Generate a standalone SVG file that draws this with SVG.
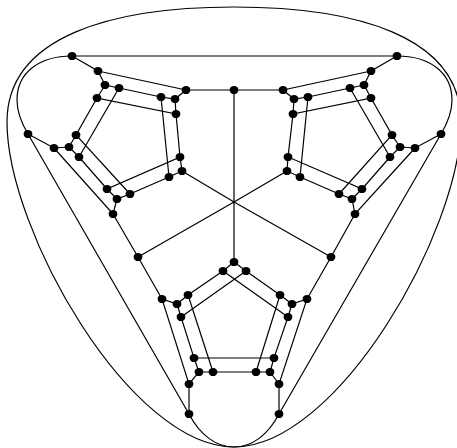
<svg xmlns="http://www.w3.org/2000/svg" width="457" height="448" viewBox="0 0 457 448">
<style>
.e{fill:none;stroke:#000;stroke-width:1.2}
.n{fill:#000;stroke:none}
</style>
<defs><ellipse id="dot" class="n" rx="4.4" ry="4.1"/></defs>
<rect width="457" height="448" fill="#fff"/>
<g id="connectors" class="e">
<path d="M234,7C115,7 7,35 7,122C7,230 130,447 234,447C338,447 461,230 461,122C461,35 353,7 234,7Z"/>
<path d="M72,56C40,56 17,72 17,100C17,113 22,124 28,134"/>
<path d="M397,56C429,56 452,72 452,100C452,113 447,124 441,134"/>
<path d="M189,414C200,435 216,447 234,447C252,447 268,435 279,414"/>
<path d="M72,56H397M186,90H283M234,90V202M234,202V262M234,202L182,171M234,202L287,171M234,202L138,257M234,202L331,257"/>
<path d="M72,56L98,71L105,85L119,88L161,97L175,99L186,90L98,71M105,85L97,98L176,114L180,157L107,189L117,199L130,194L169,177L182,171L180,157M175,99L176,114M161,97L169,177M97,98L76,135L130,194M76,135L69,147L54,148L28,134M69,147L79,157L107,189M119,88L79,157M54,148L113,214L117,199M113,214L138,257L162,299M28,134L189,414"/>
<path d="M397,56L371,71L364,85L350,88L308,97L294,99L283,90L371,71M364,85L371,98L293,114L288,157L362,189L352,199L339,194L300,177L287,171L288,157M294,99L293,114M308,97L300,177M371,98L392,135L339,194M392,135L400,147L415,148L441,134M400,147L390,157L362,189M350,88L390,157M415,148L355,214L352,199M355,214L331,257L307,299M441,134L279,414"/>
<path d="M234,262L223,271L188,295L177,304L162,299L189,384L189,414M234,262L246,271L280,295L292,304L307,299L279,384L279,414M223,271L288,317L274,358L194,358L181,317L246,271M177,304L181,317M292,304L288,317M188,295L213,372M280,295L256,372M194,358L199,372L189,384M274,358L270,372L279,384M199,372H270"/>
</g>
<g id="n1"><use href="#dot" x="72" y="56"/></g>
<g id="n2"><use href="#dot" x="98" y="71"/></g>
<g id="n3"><use href="#dot" x="105" y="85"/></g>
<g id="n4"><use href="#dot" x="119" y="88"/></g>
<g id="n5"><use href="#dot" x="97" y="98"/></g>
<g id="n6"><use href="#dot" x="161" y="97"/></g>
<g id="n7"><use href="#dot" x="175" y="99"/></g>
<g id="n8"><use href="#dot" x="186" y="90"/></g>
<g id="n9"><use href="#dot" x="176" y="114"/></g>
<g id="n10"><use href="#dot" x="180" y="157"/></g>
<g id="n11"><use href="#dot" x="182" y="171"/></g>
<g id="n12"><use href="#dot" x="169" y="177"/></g>
<g id="n13"><use href="#dot" x="130" y="194"/></g>
<g id="n14"><use href="#dot" x="117" y="199"/></g>
<g id="n15"><use href="#dot" x="107" y="189"/></g>
<g id="n16"><use href="#dot" x="113" y="214"/></g>
<g id="n17"><use href="#dot" x="79" y="157"/></g>
<g id="n18"><use href="#dot" x="69" y="147"/></g>
<g id="n19"><use href="#dot" x="76" y="135"/></g>
<g id="n20"><use href="#dot" x="54" y="148"/></g>
<g id="n21"><use href="#dot" x="28" y="134"/></g>
<g id="n22"><use href="#dot" x="397" y="56"/></g>
<g id="n23"><use href="#dot" x="371" y="71"/></g>
<g id="n24"><use href="#dot" x="364" y="85"/></g>
<g id="n25"><use href="#dot" x="350" y="88"/></g>
<g id="n26"><use href="#dot" x="371" y="98"/></g>
<g id="n27"><use href="#dot" x="308" y="97"/></g>
<g id="n28"><use href="#dot" x="294" y="99"/></g>
<g id="n29"><use href="#dot" x="283" y="90"/></g>
<g id="n30"><use href="#dot" x="293" y="114"/></g>
<g id="n31"><use href="#dot" x="288" y="157"/></g>
<g id="n32"><use href="#dot" x="287" y="171"/></g>
<g id="n33"><use href="#dot" x="300" y="177"/></g>
<g id="n34"><use href="#dot" x="339" y="194"/></g>
<g id="n35"><use href="#dot" x="352" y="199"/></g>
<g id="n36"><use href="#dot" x="362" y="189"/></g>
<g id="n37"><use href="#dot" x="355" y="214"/></g>
<g id="n38"><use href="#dot" x="390" y="157"/></g>
<g id="n39"><use href="#dot" x="400" y="147"/></g>
<g id="n40"><use href="#dot" x="392" y="135"/></g>
<g id="n41"><use href="#dot" x="415" y="148"/></g>
<g id="n42"><use href="#dot" x="441" y="134"/></g>
<g id="n43"><use href="#dot" x="234" y="90"/></g>
<g id="n44"><use href="#dot" x="234" y="262"/></g>
<g id="n45"><use href="#dot" x="223" y="271"/></g>
<g id="n46"><use href="#dot" x="246" y="271"/></g>
<g id="n47"><use href="#dot" x="188" y="295"/></g>
<g id="n48"><use href="#dot" x="280" y="295"/></g>
<g id="n49"><use href="#dot" x="177" y="304"/></g>
<g id="n50"><use href="#dot" x="292" y="304"/></g>
<g id="n51"><use href="#dot" x="162" y="299"/></g>
<g id="n52"><use href="#dot" x="307" y="299"/></g>
<g id="n53"><use href="#dot" x="181" y="317"/></g>
<g id="n54"><use href="#dot" x="288" y="317"/></g>
<g id="n55"><use href="#dot" x="194" y="358"/></g>
<g id="n56"><use href="#dot" x="274" y="358"/></g>
<g id="n57"><use href="#dot" x="199" y="372"/></g>
<g id="n58"><use href="#dot" x="270" y="372"/></g>
<g id="n59"><use href="#dot" x="213" y="372"/></g>
<g id="n60"><use href="#dot" x="256" y="372"/></g>
<g id="n61"><use href="#dot" x="189" y="384"/></g>
<g id="n62"><use href="#dot" x="279" y="384"/></g>
<g id="n63"><use href="#dot" x="189" y="414"/></g>
<g id="n64"><use href="#dot" x="279" y="414"/></g>
<g id="n65"><use href="#dot" x="138" y="257"/></g>
<g id="n66"><use href="#dot" x="331" y="257"/></g>
</svg>
